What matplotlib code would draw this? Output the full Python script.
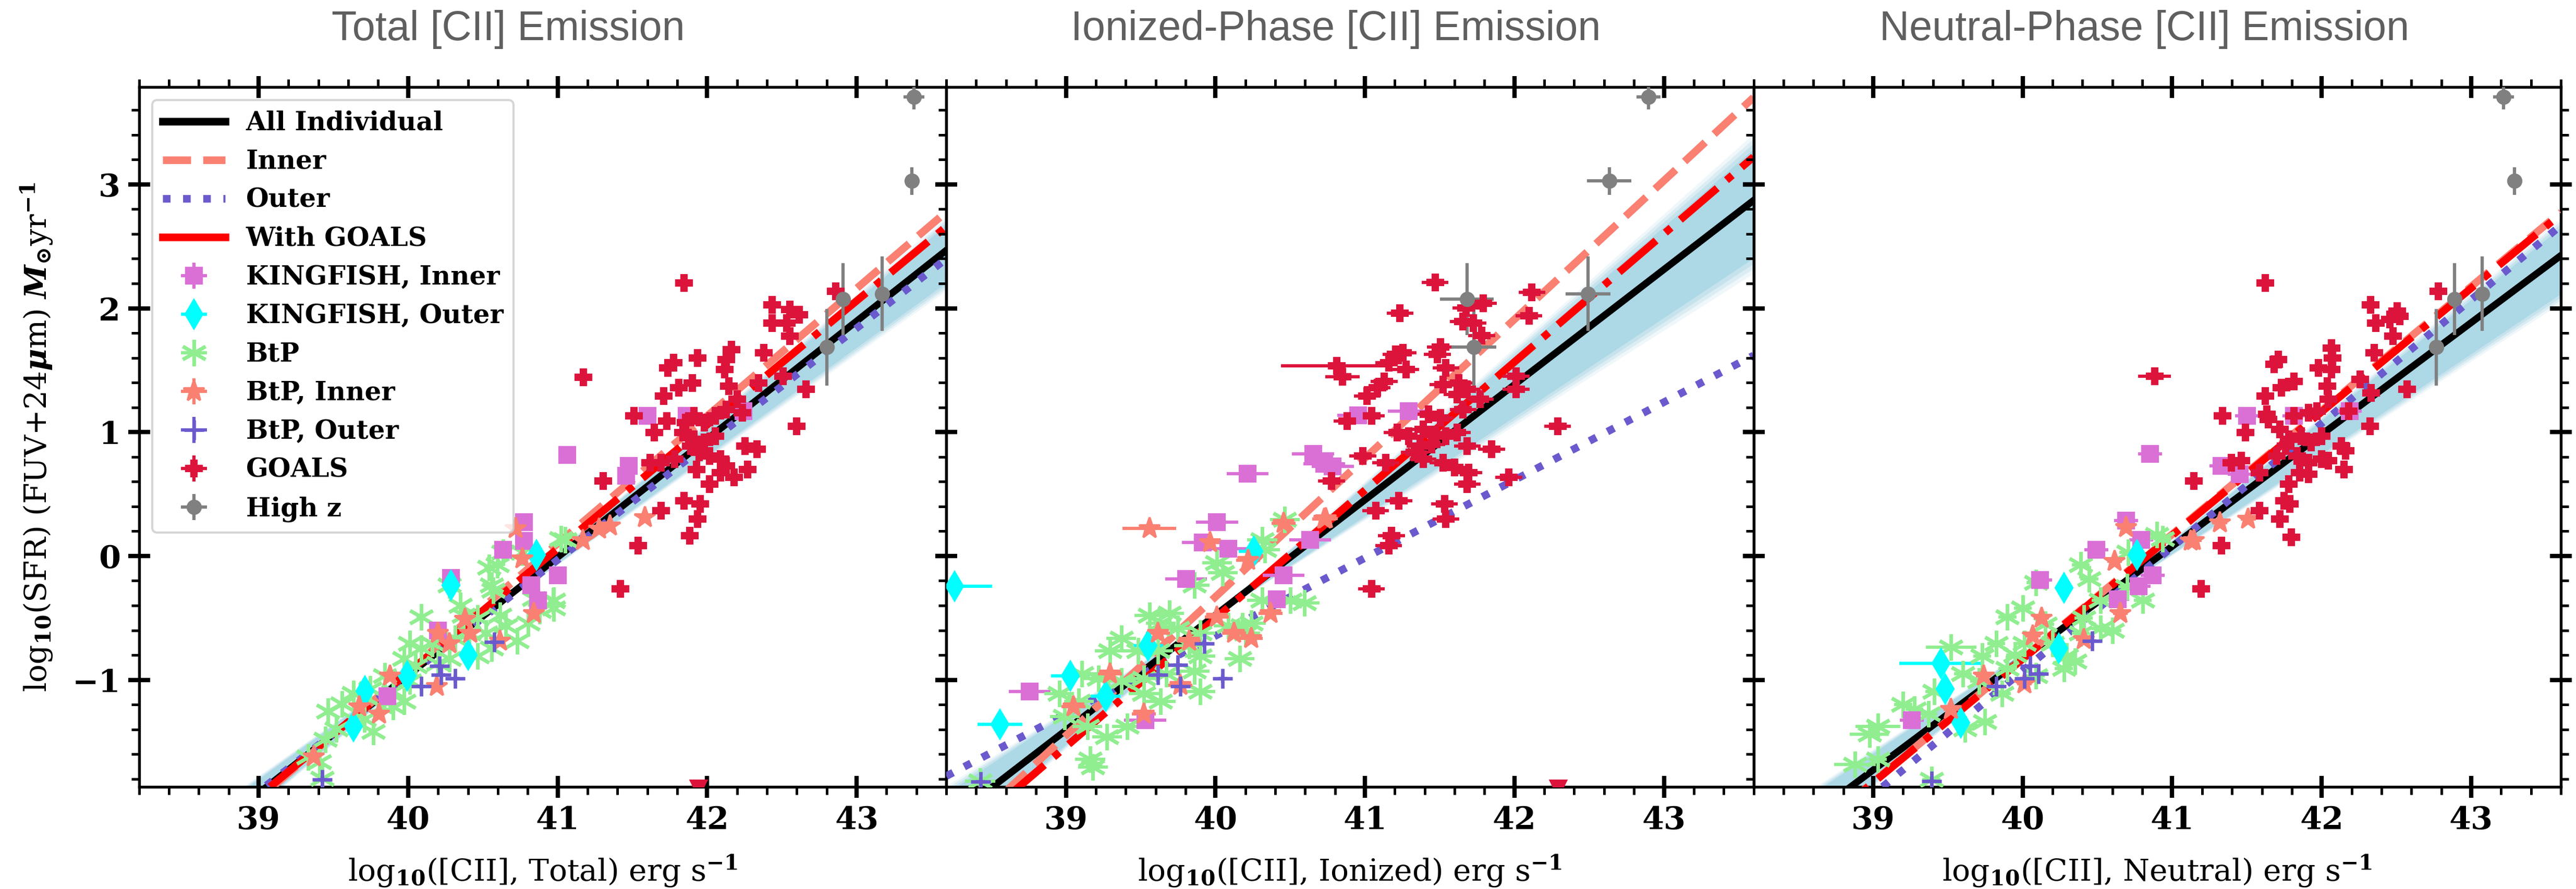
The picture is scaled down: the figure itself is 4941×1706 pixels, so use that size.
import numpy as np
import matplotlib
matplotlib.use("Agg")
import matplotlib.pyplot as plt
from matplotlib.lines import Line2D
from matplotlib.ticker import MultipleLocator

plt.rcParams['font.family'] = ['DejaVu Serif']
plt.rcParams['mathtext.fontset'] = 'dejavuserif'
plt.rcParams['font.weight'] = 'bold'

# ------------------------------------------------------------------ data
panel_titles = ["Total [CII] Emission", "Ionized-Phase [CII] Emission", "Neutral-Phase [CII] Emission"]
panel_xlabels = [r'log$_{\mathbf{10}}$([CII], Total) erg s$^{\mathbf{-1}}$',
                 r'log$_{\mathbf{10}}$([CII], Ionized) erg s$^{\mathbf{-1}}$',
                 r'log$_{\mathbf{10}}$([CII], Neutral) erg s$^{\mathbf{-1}}$']
ylabel_text = r'log$_{\mathbf{10}}$(SFR) (FUV+24$\boldsymbol{\mu}$m) $\boldsymbol{M}_{\odot}$yr$^{\mathbf{-1}}$'
x_ticks = [39, 40, 41, 42, 43]
y_ticks = [-1, 0, 1, 2, 3]

# fit lines: y at x = 38.2 and x = 43.6 for each panel (Total, Ionized, Neutral)
line_x = [38.2, 43.6]
fit_all = [[-2.678, 2.468], [-2.151, 2.871], [-2.450, 2.426]]
fit_inner = [[-2.784, 2.778], [-2.346, 3.702], [-2.625, 2.775]]
fit_outer = [[-2.649, 2.400], [-1.777, 1.619], [-2.725, 2.669]]
fit_goals = [[-2.740, 2.660], [-2.367, 3.222], [-2.628, 2.761]]
band_top = [[-2.866, 2.740], [-2.421, 3.410], [-2.660, 2.730]]
band_bot = [[-2.454, 2.140], [-1.856, 2.280], [-2.185, 2.040]]

# GOALS
goals_tot_x = [41.846, 41.173, 42.434, 42.552, 42.615, 42.434, 42.534, 42.552, 42.86, 42.163, 42.127, 42.118,
               41.774, 41.738, 41.937, 41.901, 41.81, 42.145, 42.38, 41.71, 42.344, 42.507, 42.66, 41.512,
               41.729, 41.647, 41.91, 41.982, 42.054, 42.127, 42.2, 42.235, 42.597, 41.837, 41.91, 41.982,
               42.054, 41.946, 42.018, 42.09, 41.928, 42.09, 42.18, 42.254, 42.335, 42.27, 41.62, 41.692,
               41.783, 41.304, 42.018, 41.846, 41.955, 41.692, 41.937, 41.883, 41.539, 41.421, 41.855,
               41.892, 42.127]
goals_tot_y = [2.203, 1.444, 2.029, 1.988, 1.948, 1.881, 1.881, 1.774, 2.136, 1.666, 1.586, 1.505, 1.559,
               1.519, 1.599, 1.398, 1.358, 1.371, 1.64, 1.291, 1.398, 1.452, 1.344, 1.13, 1.09, 0.996, 1.13,
               1.076, 1.13, 1.183, 1.264, 1.157, 1.049, 0.996, 0.942, 0.915, 0.969, 0.835, 0.808, 0.781,
               0.70, 0.674, 0.633, 0.888, 0.862, 0.70, 0.754, 0.754, 0.781, 0.607, 0.58, 0.446, 0.419,
               0.365, 0.298, 0.164, 0.083, -0.266, 1.076, 0.888, 0.727]
goals_ion_x = [41.469, 40.81, 40.85, 41.235, 42.117, 42.097, 41.791, 41.676, 41.724, 41.657, 41.781, 41.504,
               41.484, 41.542, 41.207, 41.254, 41.159, 41.274, 41.13, 41.082, 41.015, 41.523, 41.628, 41.685,
               41.618, 41.772, 42.011, 42.011, 41.044, 40.881, 42.289, 41.427, 41.504, 41.657, 41.389,
               41.475, 41.542, 41.618, 41.216, 41.293, 41.37, 41.446, 41.685, 41.848, 41.331, 41.389,
               41.523, 41.599, 41.695, 40.986, 41.14, 40.776, 41.963, 41.685, 41.226, 41.532, 41.072,
               41.542, 41.178, 41.159, 41.044]
goals_ion_y = [2.208, 1.537, 1.449, 1.962, 2.13, 1.94, 2.042, 2.002, 1.881, 1.894, 1.779, 1.685, 1.626,
               1.519, 1.626, 1.64, 1.559, 1.505, 1.411, 1.358, 1.291, 1.385, 1.398, 1.344, 1.304, 1.264,
               1.452, 1.344, 1.13, 1.09, 1.049, 1.143, 1.116, 1.183, 1.022, 0.982, 0.969, 0.996, 0.996,
               0.969, 0.888, 0.902, 0.888, 0.862, 0.835, 0.781, 0.754, 0.714, 0.674, 0.808, 0.754, 0.607,
               0.633, 0.58, 0.446, 0.419, 0.365, 0.298, 0.164, 0.083, -0.266]
goals_ion_xerr = [0.09, 0.37, 0.115] + [0.09] * 58
goals_neu_x = [41.624, 40.882, 42.328, 42.505, 42.524, 42.361, 42.457, 42.476, 42.782, 42.064, 42.074, 42.064,
               41.71, 41.682, 41.978, 41.816, 41.73, 42.036, 42.351, 41.624, 42.256, 42.332, 42.571, 41.337,
               41.634, 41.49, 41.816, 41.911, 41.969, 42.045, 42.179, 42.323, 41.72, 41.778, 41.864, 41.931,
               41.998, 41.835, 41.911, 42.045, 41.854, 41.911, 42.15, 42.131, 42.16, 41.701, 41.395, 41.462,
               41.586, 41.145, 41.778, 41.749, 41.787, 41.586, 41.72, 41.797, 41.328, 41.194, 41.643,
               41.758, 41.998]
goals_neu_y = [2.203, 1.452, 2.029, 1.975, 1.935, 1.881, 1.908, 1.774, 2.136, 1.68, 1.599, 1.505, 1.586,
               1.546, 1.519, 1.411, 1.358, 1.371, 1.64, 1.291, 1.425, 1.318, 1.344, 1.13, 1.143, 0.996, 1.13,
               1.157, 1.17, 1.264, 1.17, 1.049, 1.022, 0.942, 0.969, 0.915, 0.969, 0.808, 0.754, 0.768,
               0.674, 0.66, 0.70, 0.888, 0.848, 0.808, 0.754, 0.768, 0.674, 0.607, 0.58, 0.446, 0.419,
               0.365, 0.298, 0.15, 0.083, -0.266, 1.103, 0.888, 0.781]
goals_neu_xerr = [0.03, 0.11] + [0.03] * 59
goals_limit_x = [41.943, 42.293, None]
goals_limit_y = -1.875

# High z
hiz_y = [3.706, 3.027, 2.074, 2.117, 1.685]
hiz_yerr = [0.10, 0.11, 0.29, 0.30, 0.31]
hiz_tot_x = [43.384, 43.37, 42.908, 43.17, 42.80]
hiz_tot_xerr = [0.07, 0.03, 0.03, 0.03, 0.03]
hiz_ion_x = [42.896, 42.634, 41.682, 42.494, 41.73]
hiz_ion_xerr = [0.08, 0.147, 0.18, 0.15, 0.15]
hiz_neu_x = [43.216, 43.289, 42.887, 43.075, 42.767]
hiz_neu_xerr = [0.07, 0.03, 0.03, 0.03, 0.03]

# KINGFISH, Inner
kfi_tot_x = [40.285, 40.634, 40.775, 40.775, 40.823, 41.002, 41.064, 41.476, 41.458, 41.602, 41.864, 42.244,
             40.87, 40.2, 39.86]
kfi_tot_y = [-0.175, 0.049, 0.274, 0.121, -0.236, -0.155, 0.814, 0.727, 0.647, 1.13, 1.13, 1.17, -0.359,
             -0.6, -1.13]
kfi_ion_x = [40.215, 40.011, 39.917, 40.087, 40.634, 40.455, 39.804, 40.653, 40.728, 40.785, 40.955, 40.41,
             38.757, 39.53, 41.293]
kfi_ion_y = [0.665, 0.274, 0.111, 0.059, 0.131, -0.155, -0.185, 0.824, 0.743, 0.722, 1.135, -0.35, -1.093,
             -1.327, 1.17]
kfi_neu_x = [40.851, 40.69, 40.794, 40.492, 40.87, 40.775, 40.115, 40.634, 39.257, 41.328, 41.452, 41.5,
             41.816, 42.189]
kfi_neu_y = [0.824, 0.284, 0.131, 0.049, -0.155, -0.246, -0.195, -0.348, -1.327, 0.727, 0.66, 1.13, 1.13, 1.17]

# KINGFISH, Outer
kfo_tot_x = [40.285, 40.86, 39.71, 39.634, 39.992, 40.4]
kfo_tot_y = [-0.236, 0.009, -1.09, -1.378, -0.97, -0.8]
kfo_ion_x = [38.257, 38.558, 39.03, 39.266, 40.257, 39.55]
kfo_ion_y = [-0.246, -1.358, -0.97, -1.133, 0.039, -0.725]
kfo_ion_xerr = [0.25, 0.15, 0.13, 0.10, 0.10, 0.10]
kfo_neu_x = [40.275, 40.766, 39.455, 39.483, 39.587, 40.24]
kfo_neu_y = [-0.257, 0.009, -0.868, -1.072, -1.347, -0.746]
kfo_neu_xerr = [0.05, 0.05, 0.28, 0.05, 0.05, 0.05]

# BtP
btp_tot_x = [40.087, 40.596, 40.634, 40.558, 40.568, 40.766, 40.974, 40.974, 41.049, 40.275, 40.37, 40.313,
             40.408, 40.521, 40.653, 40.558, 40.464, 40.728, 40.804, 40.879, 40.615, 40.011, 40.087, 40.162,
             39.974, 40.049, 40.2, 40.275, 39.842, 39.898, 40.011, 39.974, 39.823, 39.747, 39.634, 39.558,
             39.709, 39.766, 39.634, 39.464, 39.521, 39.445, 39.408, 39.332, 39.426, 39.898, 40.464, 40.351,
             40.54, 41.023, 40.842, 40.969]
btp_tot_y = [-0.491, -0.073, 0.029, -0.236, -0.277, 0.029, -0.359, -0.42, 0.131, -0.236, -0.481, -0.664,
             -0.624, -0.624, -0.563, -0.746, -0.807, -0.685, -0.542, -0.44, -0.481, -0.705, -0.746, -0.705,
             -0.827, -0.889, -0.868, -0.827, -0.97, -1.093, -1.011, -1.174, -1.215, -1.072, -1.113, -1.195,
             -1.317, -1.419, -1.317, -1.256, -1.398, -1.48, -1.664, -1.623, -1.796, -1.215, -0.501, -0.4,
             -0.093, 0.137, -0.346, -0.36]
btp_ion_x = [40.011, 40.049, 39.86, 40.313, 40.464, 40.332, 40.502, 40.313, 39.691, 39.558, 39.634, 39.747,
             39.898, 40.087, 40.238, 40.2, 39.37, 39.294, 39.483, 39.615, 39.823, 39.898, 40.162, 39.106,
             39.219, 39.37, 39.521, 39.672, 39.86, 38.955, 39.087, 39.521, 39.634, 39.898, 38.992, 39.143,
             39.408, 39.275, 39.162, 39.181, 38.426, 40.596, 40.181]
btp_ion_y = [-0.053, -0.134, -0.236, 0.131, 0.294, 0.05, -0.359, -0.359, -0.461, -0.481, -0.542, -0.583,
             -0.624, -0.563, -0.542, -0.624, -0.664, -0.766, -0.766, -0.766, -0.725, -0.807, -0.827, -0.95,
             -0.991, -1.011, -0.991, -0.95, -0.93, -1.113, -1.174, -1.113, -1.174, -1.093, -1.297, -1.378,
             -1.378, -1.46, -1.643, -1.704, -1.816, -0.379, -0.563]
btp_neu_x = [40.087, 40.389, 40.445, 40.898, 40.804, 40.521, 39.898, 39.823, 40.011, 40.2, 40.389, 40.521,
             40.294, 39.521, 39.728, 39.898, 40.087, 40.275, 39.709, 39.86, 39.408, 39.275, 39.37, 39.03,
             38.974, 39.615, 39.747, 38.879, 39.03, 39.389, 40.408, 40.935, 40.706,
             40.6, 40.15, 39.95, 40.35, 39.6, 40.7, 40.0, 39.2]
btp_neu_y = [-0.216, -0.073, -0.185, 0.172, -0.359, -0.359, -0.491, -0.705, -0.705, -0.705, -0.624, -0.583,
             -0.807, -0.736, -0.807, -0.909, -0.97, -0.909, -1.011, -1.113, -1.093, -1.236, -1.276, -1.378,
             -1.44, -1.399, -1.337, -1.684, -1.643, -1.806, -0.501, 0.137, 0.03,
             -0.6, -0.55, -0.8, -0.85, -0.95, -0.25, -0.42, -1.2]
btp_neu_xerr = [0.06] * 13 + [0.17] + [0.06] * 9 + [0.15, 0.13, 0.06, 0.06, 0.14] + [0.06] * 13

# BtP, Inner
bti_tot_x = [40.719, 40.766, 40.842, 40.379, 40.417, 40.275, 40.2, 40.615, 39.879, 40.191, 39.672, 39.804,
             39.37, 41.349, 41.584, 41.168, 41.277]
bti_tot_y = [0.223, -0.022, -0.461, -0.511, -0.624, -0.705, -0.624, -0.685, -0.97, -1.052, -1.215, -1.276,
             -1.62, 0.244, 0.311, 0.124, 0.218]
bti_ion_x = [39.558, 39.964, 40.219, 40.455, 40.738, 40.011, 40.37, 40.125, 40.238, 39.615, 39.823, 39.294,
             39.049, 39.521, 39.766, 40.728]
bti_ion_y = [0.223, 0.11, -0.032, 0.263, 0.304, -0.491, -0.461, -0.624, -0.664, -0.624, -0.685, -0.95,
             -1.215, -1.276, -1.042, 0.298]
bti_ion_xerr = [0.18] + [0.08] * 15
bti_neu_x = [40.69, 40.615, 40.653, 40.125, 40.068, 40.408, 39.738, 40.011, 39.521, 41.125, 41.509, 41.318,
             41.146]
bti_neu_y = [0.233, -0.042, -0.461, -0.501, -0.644, -0.675, -0.97, -1.032, -1.236, 0.121, 0.299, 0.271, 0.124]

# BtP, Outer
bto_tot_x = [40.577, 40.209, 40.219, 40.313, 40.087, 39.426]
bto_tot_y = [-0.695, -0.889, -0.96, -0.991, -1.052, -1.806]
bto_ion_x = [39.926, 39.747, 39.615, 39.766, 40.049, 38.43]
bto_ion_y = [-0.705, -0.878, -0.96, -1.052, -0.991, -1.82]
bto_neu_x = [40.464, 40.049, 40.106, 40.011, 39.823, 39.389]
bto_neu_y = [-0.685, -0.889, -0.95, -0.991, -1.052, -1.816]

# ------------------------------------------------------------------ figure
W, H = 4941, 1706
fig = plt.figure(figsize=(W / 300, H / 300), dpi=300)
left, right = 266.7 / W, 4912 / W
bottom, top = 1 - 1510 / H, 1 - 167 / H
aw = (right - left) / 3
axes = [fig.add_axes([left + i * aw, bottom, aw, top - bottom]) for i in range(3)]

XLIM = (38.2, 43.6)
YLIM = (-1.864, 3.786)
EL = 1.5

panels = [
    dict(goals=(goals_tot_x, goals_tot_y, 0.03), hiz=(hiz_tot_x, hiz_tot_xerr),
         kfi=(kfi_tot_x, kfi_tot_y, 0.03), kfo=(kfo_tot_x, kfo_tot_y, 0.03),
         btp=(btp_tot_x, btp_tot_y, 0.03), bti=(bti_tot_x, bti_tot_y, 0.03), bto=(bto_tot_x, bto_tot_y, 0.03)),
    dict(goals=(goals_ion_x, goals_ion_y, goals_ion_xerr), hiz=(hiz_ion_x, hiz_ion_xerr),
         kfi=(kfi_ion_x, kfi_ion_y, 0.14), kfo=(kfo_ion_x, kfo_ion_y, kfo_ion_xerr),
         btp=(btp_ion_x, btp_ion_y, 0.10), bti=(bti_ion_x, bti_ion_y, bti_ion_xerr), bto=(bto_ion_x, bto_ion_y, 0.03)),
    dict(goals=(goals_neu_x, goals_neu_y, goals_neu_xerr), hiz=(hiz_neu_x, hiz_neu_xerr),
         kfi=(kfi_neu_x, kfi_neu_y, 0.08), kfo=(kfo_neu_x, kfo_neu_y, kfo_neu_xerr),
         btp=(btp_neu_x, btp_neu_y, btp_neu_xerr), bti=(bti_neu_x, bti_neu_y, 0.05), bto=(bto_neu_x, bto_neu_y, 0.03)),
]

for i, ax in enumerate(axes):
    p = panels[i]
    # posterior band
    t = np.array(band_top[i]); b = np.array(band_bot[i])
    c = (t + b) / 2; h = (t - b) / 2
    for f, a in [(1.0, 0.18), (0.93, 0.3), (0.86, 0.45)]:
        ax.fill_between(line_x, c - f * h, c + f * h, color='lightblue', alpha=a, lw=0, zorder=1)
    ax.fill_between(line_x, c - 0.78 * h, c + 0.78 * h, color='lightblue', lw=0, zorder=1)

    # fit lines
    ax.plot(line_x, fit_all[i], color='black', lw=3.2, zorder=3)
    ax.plot(line_x, fit_inner[i], color='salmon', lw=3.5, ls='--', zorder=3)
    ax.plot(line_x, fit_outer[i], color='slateblue', lw=3.5, ls=':', zorder=3)
    ax.plot(line_x, fit_goals[i], color='red', lw=3.5, ls='-.', zorder=3)

    # points
    kw = dict(ls='none', elinewidth=EL, capsize=0, zorder=4)
    e_kfi = ax.errorbar(p['kfi'][0], p['kfi'][1], xerr=p['kfi'][2], yerr=0.03, fmt='s', color='orchid',
                        ms=7, label='KINGFISH, Inner', **kw)
    e_kfo = ax.errorbar(p['kfo'][0], p['kfo'][1], xerr=p['kfo'][2], yerr=0.03, fmt='d', color='cyan',
                        ms=9, label='KINGFISH, Outer', **kw)
    e_btp = ax.errorbar(p['btp'][0], p['btp'][1], xerr=p['btp'][2], yerr=0.03, fmt='none', ecolor='lightgreen',
                        label='BtP', **kw)
    btp_mk, = ax.plot(p['btp'][0], p['btp'][1], ls='none', marker=(6, 2, 0), color='lightgreen', ms=12,
                      mew=1.6, zorder=4)
    e_bti = ax.errorbar(p['bti'][0], p['bti'][1], xerr=p['bti'][2], yerr=0.03, fmt='*', color='salmon',
                        ms=10, label='BtP, Inner', **kw)
    e_bto = ax.errorbar(p['bto'][0], p['bto'][1], xerr=p['bto'][2], yerr=0.03, fmt='+', color='slateblue',
                        ms=9, mew=1.6, label='BtP, Outer', **kw)
    e_goals = ax.errorbar(p['goals'][0], p['goals'][1], xerr=p['goals'][2], yerr=0.03, fmt='P', color='crimson',
                          ms=7, label='GOALS', **kw)
    if goals_limit_x[i] is not None:
        ax.plot([goals_limit_x[i]], [goals_limit_y], ls='none', marker='v', color='crimson', ms=7, zorder=4)
    e_hiz = ax.errorbar(p['hiz'][0], hiz_y, xerr=p['hiz'][1], yerr=hiz_yerr, fmt='o', color='gray',
                        ms=6, label='High z', **kw)

    if i == 0:
        legend_handles = [
            Line2D([], [], color='black', lw=3.5),
            Line2D([], [], color='salmon', lw=3.5, ls='--'),
            Line2D([], [], color='slateblue', lw=3.5, ls=':'),
            Line2D([], [], color='red', lw=3.5, ls='-'),
            e_kfi, e_kfo, (e_btp, btp_mk), e_bti, e_bto, e_goals, e_hiz]
        legend_labels = ['All Individual', 'Inner', 'Outer', 'With GOALS', 'KINGFISH, Inner', 'KINGFISH, Outer',
                         'BtP', 'BtP, Inner', 'BtP, Outer', 'GOALS', 'High z']

    ax.set_xlim(*XLIM)
    ax.set_ylim(*YLIM)
    ax.set_xticks(x_ticks)
    ax.set_yticks(y_ticks)
    ax.xaxis.set_minor_locator(MultipleLocator(0.2))
    ax.yaxis.set_minor_locator(MultipleLocator(0.2))
    ax.tick_params(which='major', direction='inout', length=10, width=2.0, top=True, right=True,
                   labelsize=14.5, pad=3.5)
    ax.tick_params(which='minor', direction='out', length=3.5, width=1.2, top=True, right=True)
    for s in ax.spines.values():
        s.set_linewidth(1.3)
    if i > 0:
        ax.tick_params(labelleft=False)
    ax.set_xlabel(panel_xlabels[i], fontsize=14, fontweight='normal', labelpad=8)

axes[0].set_ylabel(ylabel_text, fontsize=14, fontweight='normal', labelpad=8)
axes[0].legend(legend_handles, legend_labels, loc='upper left', handlelength=2.4,
               prop={'family': 'DejaVu Serif', 'weight': 'bold', 'size': 12})

title_x = [975 / W, 2562 / W, 4113 / W]
for tx, tt in zip(title_x, panel_titles):
    fig.text(tx, 1 - 77 / H, tt, ha='center', va='baseline', fontsize=19, color='#5f5f5f',
             family='Liberation Sans', fontweight='normal')

fig.savefig('out.png', dpi=300)
